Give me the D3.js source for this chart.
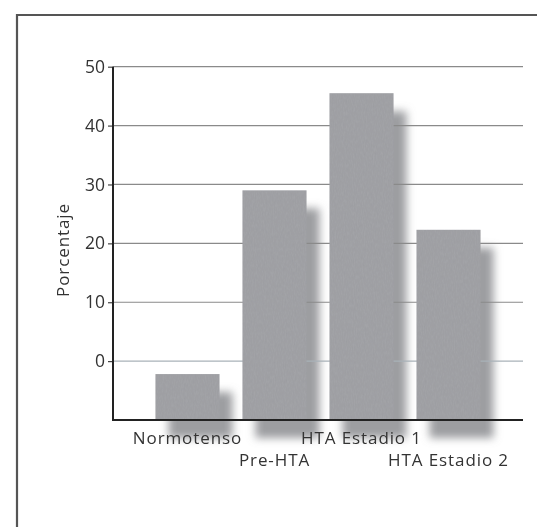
<!DOCTYPE html>
<html>
<head>
<meta charset="utf-8">
<script src="https://cdn.jsdelivr.net/npm/d3@7/dist/d3.min.js"></script>
<style>
  html, body { margin: 0; padding: 0; background: #fff; }
  svg { display: block; }
  text { font-family: "Open Sans", "Noto Sans", sans-serif; fill: #333; }
</style>
</head>
<body>
<svg id="chart" width="537" height="527"></svg>
<script>
// Distribución de la presión arterial (porcentaje por categoría)
const categories = ["Normotenso", "Pre-HTA", "HTA Estadio 1", "HTA Estadio 2"];
const values = [-2.2, 29, 45.5, 22.3];
const tickValues = [0, 10, 20, 30, 40, 50];
const yLabel = "Porcentaje";

const svg = d3.select("#chart");
const W = 537, H = 527;

const plot = { left: 113, right: 523, top: 66.7, bottom: 420 };

const x = d3.scaleBand()
  .domain(categories)
  .range([plot.left, plot.right])
  .paddingInner(0.264)
  .paddingOuter(0.488);

const y = d3.scaleLinear()
  .domain([-10, 50])
  .range([plot.bottom, plot.top]);

const defs = svg.append("defs");
defs.append("filter")
  .attr("id", "soft")
  .attr("x", "-50%").attr("y", "-50%")
  .attr("width", "200%").attr("height", "200%")
  .append("feGaussianBlur").attr("stdDeviation", 4.2);

// grainy print texture for the bars
const grain = defs.append("filter").attr("id", "grain")
  .attr("x", 0).attr("y", 0).attr("width", "100%").attr("height", "100%");
grain.append("feTurbulence")
  .attr("type", "fractalNoise")
  .attr("baseFrequency", "0.9 0.25")
  .attr("numOctaves", 2)
  .attr("seed", 3)
  .attr("result", "noise");
grain.append("feColorMatrix")
  .attr("in", "noise")
  .attr("type", "matrix")
  .attr("values", "0 0 0 0 0.45  0 0 0 0 0.45  0 0 0 0 0.47  0 0 0 0.35 -0.05")
  .attr("result", "dots");
grain.append("feComposite")
  .attr("in", "dots").attr("in2", "SourceGraphic")
  .attr("operator", "in").attr("result", "clip");
grain.append("feMerge").selectAll("feMergeNode")
  .data(["SourceGraphic", "clip"]).join("feMergeNode")
  .attr("in", d => d);

// outer frame
svg.append("path")
  .attr("d", `M17,${H} L17,15 L${W},15`)
  .attr("fill", "none")
  .attr("stroke", "#555")
  .attr("stroke-width", 2.2);

// drop shadows behind the bars
svg.append("g").attr("filter", "url(#soft)")
  .selectAll("rect").data(values).join("rect")
  .attr("x", (d, i) => x(categories[i]) + 13)
  .attr("y", d => y(d) + 18)
  .attr("width", x.bandwidth())
  .attr("height", d => y(-10) - y(d))
  .attr("fill", "#85868a")
  .attr("opacity", 0.8);

// horizontal grid lines
svg.append("g")
  .selectAll("line").data(tickValues).join("line")
  .attr("x1", plot.left).attr("x2", plot.right)
  .attr("y1", d => y(d)).attr("y2", d => y(d))
  .attr("stroke", d => d === 0 ? "#a9b2b8" : "#8a8a8a")
  .attr("stroke-width", 1.2);

// bars
svg.append("g")
  .selectAll("rect").data(values).join("rect")
  .attr("x", (d, i) => x(categories[i]))
  .attr("y", d => y(d))
  .attr("width", x.bandwidth())
  .attr("height", d => y(-10) - y(d))
  .attr("fill", "#9d9ea2")
  .attr("filter", "url(#grain)");

// y axis
const yAxis = svg.append("g")
  .attr("transform", `translate(${plot.left},0)`)
  .call(d3.axisLeft(y).tickValues(tickValues).tickSize(5).tickPadding(3));
yAxis.select(".domain").remove();
yAxis.selectAll(".tick line").attr("stroke", "#444").attr("stroke-width", 1.2);
yAxis.selectAll(".tick text")
  .attr("fill", "#333")
  .style("font-size", "17.5px")
  .style("font-weight", "500")
  .style("font-family", "'Open Sans', 'Noto Sans', sans-serif");

svg.append("line")
  .attr("x1", plot.left).attr("x2", plot.left)
  .attr("y1", plot.top).attr("y2", plot.bottom)
  .attr("stroke", "#222").attr("stroke-width", 2);

// baseline
svg.append("line")
  .attr("x1", plot.left - 1).attr("x2", plot.right)
  .attr("y1", plot.bottom).attr("y2", plot.bottom)
  .attr("stroke", "#222").attr("stroke-width", 2);

// y axis title
svg.append("text")
  .attr("transform", `translate(69,250) rotate(-90)`)
  .attr("text-anchor", "middle")
  .style("font-size", "17px")
  .style("font-weight", "500")
  .style("letter-spacing", "0.9px")
  .text(yLabel);

// category labels, staggered over two rows
svg.append("g")
  .selectAll("text").data(categories).join("text")
  .attr("x", d => x(d) + x.bandwidth() / 2)
  .attr("y", (d, i) => i % 2 === 0 ? 443.5 : 466)
  .attr("text-anchor", "middle")
  .style("font-size", "17px")
  .style("font-weight", "500")
  .style("letter-spacing", "0.9px")
  .text(d => d);
</script>
</body>
</html>
